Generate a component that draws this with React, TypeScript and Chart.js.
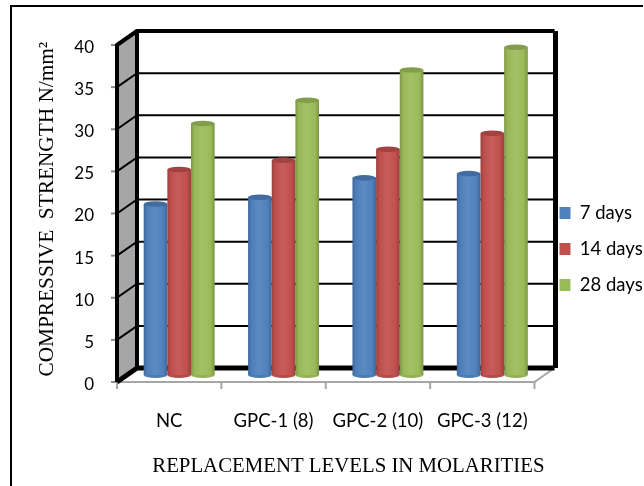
import React, { useEffect, useRef } from "react";
import { Chart, registerables } from "chart.js";

Chart.register(...registerables);

const categories = ["NC", "GPC-1 (8)", "GPC-2 (10)", "GPC-3 (12)"];
const days7 = [20.3, 21.1, 23.4, 23.9];
const days14 = [24.4, 25.5, 26.8, 28.7];
const days28 = [29.85, 32.6, 36.2, 38.9];
const tickValues = [0, 5, 10, 15, 20, 25, 30, 35, 40];

const SANS = "Lato, 'Noto Sans', sans-serif";
const SERIF = "'Liberation Serif', serif";
const BLUE = "#4f81bd";
const RED = "#c0504d";
const GREEN = "#9bbb59";
const DEPTH_X = 10;
const DEPTH_Y = 7;
const CAT_PCT = 0.68;

function shade(hex: string, f: number) {
  const n = parseInt(hex.slice(1), 16);
  const ch = (v: number) => Math.max(0, Math.min(255, Math.round(f <= 1 ? v * f : v + (255 - v) * (f - 1))));
  return `rgb(${ch((n >> 16) & 255)},${ch((n >> 8) & 255)},${ch(n & 255)})`;
}

function cylinderFill(c: any, base: string) {
  const chart = c.chart;
  const xs = chart.scales.x;
  if (!xs || !chart.chartArea) return base;
  const cat = (xs.right - xs.left) / categories.length;
  const w = (cat * CAT_PCT) / 3;
  const cx = xs.getPixelForValue(c.dataIndex) + (c.datasetIndex - 1) * w;
  const g = chart.ctx.createLinearGradient(cx - w / 2, 0, cx + w / 2, 0);
  g.addColorStop(0, shade(base, 0.8));
  g.addColorStop(0.14, shade(base, 0.98));
  g.addColorStop(0.45, shade(base, 1.08));
  g.addColorStop(0.82, shade(base, 1.0));
  g.addColorStop(1, shade(base, 0.8));
  return g;
}

const scene = {
  id: "scene",
  afterLayout(chart: any) {
    const l = chart.legend;
    if (l) {
      l.left = 542;
      l.right = 644;
      l.top = 149;
      l.bottom = 349;
    }
  },
  beforeDraw(chart: any) {
    const c = chart.ctx;
    c.save();
    c.strokeStyle = "#000";
    c.lineWidth = 2;
    c.beginPath();
    c.moveTo(11, chart.height);
    c.lineTo(11, 6);
    c.lineTo(chart.width - 1, 6);
    c.stroke();
    c.restore();
  },
  beforeDatasetsDraw(chart: any) {
    const c = chart.ctx;
    const { x: xs, y: ys } = chart.scales;
    const fl = xs.left - DEPTH_X;
    const fr = xs.right - DEPTH_X;
    const bl = xs.left + DEPTH_X;
    const br = xs.right + DEPTH_X;
    const y0 = ys.getPixelForValue(0);
    const yTop = ys.getPixelForValue(40);
    c.save();
    c.lineCap = "butt";
    // side wall
    c.fillStyle = "#a6a6a6";
    c.beginPath();
    c.moveTo(fl, y0 + DEPTH_Y);
    c.lineTo(bl, y0 - DEPTH_Y);
    c.lineTo(bl, yTop - DEPTH_Y);
    c.lineTo(fl, yTop + DEPTH_Y);
    c.closePath();
    c.fill();
    // grid
    c.strokeStyle = "#000";
    for (const v of tickValues) {
      if (v === 0 || v === 40) continue;
      const y = ys.getPixelForValue(v);
      c.lineWidth = 2;
      c.beginPath();
      c.moveTo(fl, y + DEPTH_Y);
      c.lineTo(bl, y - DEPTH_Y);
      c.lineTo(br, y - DEPTH_Y);
      c.stroke();
    }
    // y-axis ticks
    c.strokeStyle = "#8c8c8c";
    c.lineWidth = 2;
    for (const v of tickValues) {
      const y = ys.getPixelForValue(v) + DEPTH_Y;
      c.beginPath();
      c.moveTo(fl - 6, y);
      c.lineTo(fl, y);
      c.stroke();
    }
    // floor edges and category ticks
    c.strokeStyle = "#a6a6a6";
    c.beginPath();
    c.moveTo(fl, y0 + DEPTH_Y);
    c.lineTo(fr, y0 + DEPTH_Y);
    c.lineTo(br, y0 - DEPTH_Y);
    c.stroke();
    for (let i = 0; i <= categories.length; i++) {
      const x = fl + ((fr - fl) * i) / categories.length;
      c.beginPath();
      c.moveTo(x, y0 + DEPTH_Y);
      c.lineTo(x, y0 + DEPTH_Y + 7);
      c.stroke();
    }
    // frame
    c.strokeStyle = "#000";
    c.lineJoin = "round";
    c.lineWidth = 4;
    c.beginPath();
    c.moveTo(bl, y0 - DEPTH_Y);
    c.lineTo(bl, yTop - DEPTH_Y);
    c.lineTo(br, yTop - DEPTH_Y);
    c.stroke();
    c.lineWidth = 5;
    c.beginPath();
    c.moveTo(br + 1, yTop - DEPTH_Y);
    c.lineTo(br + 1, y0 - DEPTH_Y);
    c.moveTo(fl, y0 + DEPTH_Y);
    c.lineTo(bl, y0 - DEPTH_Y);
    c.lineTo(br, y0 - DEPTH_Y);
    c.stroke();
    c.lineWidth = 4;
    c.beginPath();
    c.moveTo(fl, y0 + DEPTH_Y);
    c.lineTo(fl, yTop + DEPTH_Y);
    c.lineTo(bl, yTop - DEPTH_Y);
    c.stroke();
    c.restore();
    // base caps of the cylinders
    chart.data.datasets.forEach((ds: any, di: number) => {
      chart.getDatasetMeta(di).data.forEach((b: any) => {
        c.save();
        c.fillStyle = shade(ds.borderColor, 0.95);
        c.beginPath();
        c.ellipse(b.x, b.base, b.width / 2, 3, 0, 0, Math.PI * 2);
        c.fill();
        c.restore();
      });
    });
  },
  afterDatasetsDraw(chart: any) {
    const c = chart.ctx;
    chart.data.datasets.forEach((ds: any, di: number) => {
      chart.getDatasetMeta(di).data.forEach((b: any) => {
        c.save();
        c.fillStyle = shade(ds.borderColor, 0.84);
        c.beginPath();
        c.ellipse(b.x, b.y, b.width / 2, 2.8, 0, 0, Math.PI * 2);
        c.fill();
        c.restore();
      });
    });
  },
};

function makeDataset(label: string, data: number[], color: string) {
  return {
    label,
    data,
    borderColor: color,
    borderWidth: 0,
    backgroundColor: (c: any) => cylinderFill(c, color),
    categoryPercentage: CAT_PCT,
    barPercentage: 1,
  };
}

export default function App() {
  const ref = useRef<HTMLCanvasElement>(null);
  useEffect(() => {
    const chart = new Chart(ref.current as HTMLCanvasElement, {
      type: "bar",
      data: {
        labels: categories,
        datasets: [
          makeDataset("7 days", days7, BLUE),
          makeDataset("14 days", days14, RED),
          makeDataset("28 days", days28, GREEN),
        ],
      },
      plugins: [scene],
      options: {
        animation: false,
        responsive: false,
        layout: { padding: { left: 0, right: 99.5, top: 38, bottom: 0 } },
        plugins: {
          tooltip: { enabled: false },
          legend: {
            position: "chartArea",
            labels: {
              boxWidth: 11,
              boxHeight: 12,
              padding: 17.5,
              color: "#000",
              font: { family: SANS, size: 18.5 },
              generateLabels: (chart: any) =>
                chart.data.datasets.map((d: any, i: number) => ({
                  text: d.label,
                  fillStyle: d.borderColor,
                  strokeStyle: d.borderColor,
                  lineWidth: 0,
                  datasetIndex: i,
                })),
            },
          },
        },
        scales: {
          x: {
            afterFit: (s: any) => {
              s.height = 111;
              s.paddingLeft = 0;
              s.paddingRight = 0;
            },
            grid: { display: false },
            border: { display: false },
            ticks: {
              color: "#000",
              font: { family: SANS, size: 18.5 },
              padding: 27,
              labelOffset: -10,
              maxRotation: 0,
              autoSkip: false,
            },
            title: {
              display: true,
              text: "REPLACEMENT LEVELS IN MOLARITIES",
              align: "end",
              color: "#000",
              font: { family: SERIF, size: 20.8 },
              padding: { top: 0, bottom: 7 },
            },
          },
          y: {
            min: 0,
            max: 40,
            afterFit: (s: any) => {
              s.width = 127;
              s.paddingTop = 0;
              s.paddingBottom = 0;
            },
            grid: { display: false, drawTicks: false },
            border: { display: false },
            afterBuildTicks: (s: any) => {
              s.ticks = tickValues.map((value) => ({ value }));
            },
            ticks: {
              color: "#000",
              font: { family: SANS, size: 17 },
              padding: 33,
              labelOffset: 9.5,
            },
            title: {
              display: true,
              text: "COMPRESSIVE  STRENGTH N/mm² ",
              color: "#000",
              font: { family: SERIF, size: 21.3 },
              padding: { top: 35, bottom: 0 },
            },
          },
        },
      },
    } as any);
    return () => chart.destroy();
  }, []);
  return (
    <div style={{ position: "fixed", left: 0, top: 0 }}>
      <canvas ref={ref} width={644} height={486} style={{ display: "block" }} />
    </div>
  );
}
